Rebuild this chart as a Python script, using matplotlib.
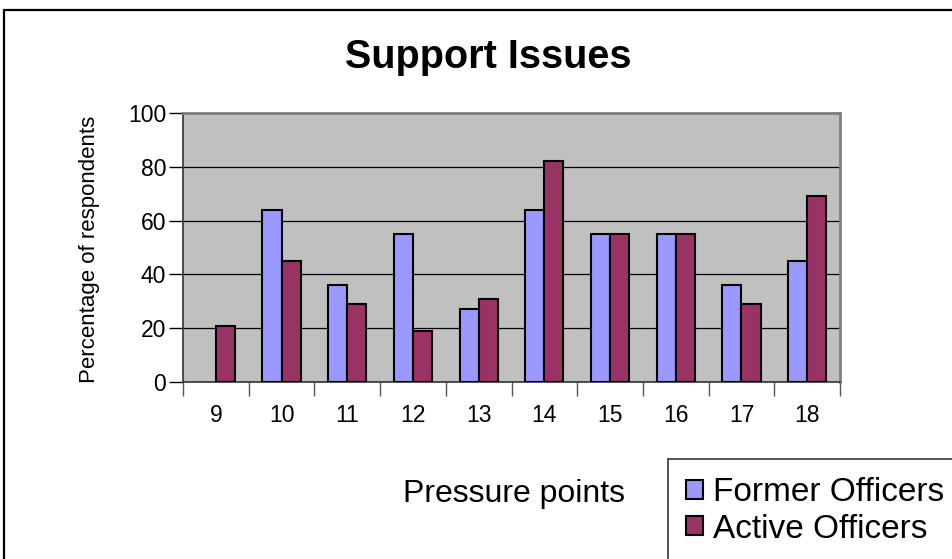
import matplotlib
matplotlib.use("Agg")
import matplotlib.pyplot as plt
from matplotlib.patches import Rectangle, Patch
import numpy as np

categories = ["9", "10", "11", "12", "13", "14", "15", "16", "17", "18"]
former = [0, 64, 36, 55, 27, 64, 55, 55, 36, 45]
active = [21, 45, 29, 19, 31, 82, 55, 55, 29, 69]
series_names = ["Former Officers", "Active Officers"]
title = "Support Issues"
xlabel = "Pressure points"
ylabel = "Percentage of respondents"
colors = ['#9999FF', '#993366']

plt.rcParams['font.family'] = ['Liberation Sans', 'DejaVu Sans']

W, H = 952, 559
fig = plt.figure(figsize=(W / 100, H / 100), dpi=100)

# outer chart border
fig.patches.append(Rectangle((4 / W, -0.01), 1.1, 1 - 10 / H + 0.01,
                             transform=fig.transFigure, fill=False,
                             edgecolor='black', linewidth=1.6, clip_on=False))

left, right, top, bottom = 183, 840, 113, 382
ax = fig.add_axes([left / W, 1 - bottom / H, (right - left) / W, (bottom - top) / H])
ax.set_facecolor('#C0C0C0')

x = np.arange(len(categories))
bw = 0.29
lw_f = [1.5 if v > 0 else 0 for v in former]
lw_a = [1.5 if v > 0 else 0 for v in active]
ax.bar(x - bw / 2, former, bw, color=colors[0], edgecolor='black', linewidth=lw_f,
       zorder=3)
ax.bar(x + bw / 2, active, bw, color=colors[1], edgecolor='black', linewidth=lw_a,
       zorder=3)

ax.set_xlim(-0.5, len(categories) - 0.5)
ax.set_ylim(0, 100)
ax.set_yticks([0, 20, 40, 60, 80, 100])
ax.yaxis.grid(True, color='black', linewidth=0.9, zorder=1)
ax.set_axisbelow(True)

ax.set_xticks(x)
ax.set_xticklabels(categories)
ax.set_xticks(np.arange(len(categories) + 1) - 0.5, minor=True)
ax.tick_params(axis='x', which='major', length=0, pad=16, labelsize=16.5)
ax.tick_params(axis='x', which='minor', length=10, width=1, color='#555555')
ax.tick_params(axis='y', length=10, width=1, pad=2, labelsize=16.5)

for s in ['top', 'right']:
    ax.spines[s].set_color('#808080')
    ax.spines[s].set_linewidth(2)
ax.spines['left'].set_color('#333333')
ax.spines['bottom'].set_color('#333333')
ax.spines['left'].set_linewidth(1.2)
ax.spines['bottom'].set_linewidth(1.2)

fig.text(488 / W, 1 - 57 / H, title, ha='center', va='center',
         fontsize=28.5, fontweight='bold')
fig.text(90 / W, 1 - 249 / H, ylabel, ha='center', va='center',
         rotation=90, fontsize=16)
fig.text(514 / W, 1 - 494 / H, xlabel, ha='center', va='center', fontsize=23)

handles = [Patch(facecolor=c, edgecolor='black', linewidth=1.5) for c in colors]
leg = fig.legend(handles, series_names, loc='upper left',
                 bbox_to_anchor=(668 / W, 1 - 459 / H),
                 fontsize=24, frameon=True, fancybox=False, borderaxespad=0,
                 handlelength=0.5, handleheight=0.5, handletextpad=0.3,
                 labelspacing=0.16, borderpad=0.55)
leg.get_frame().set_edgecolor('black')
leg.get_frame().set_linewidth(1.2)

fig.savefig('out.png', dpi=100)
